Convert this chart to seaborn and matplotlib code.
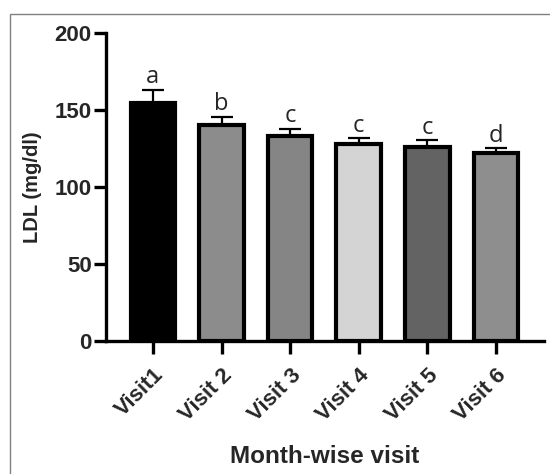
import matplotlib
matplotlib.use("Agg")
import matplotlib.pyplot as plt
import seaborn as sns
import pandas as pd
from matplotlib.patches import Rectangle

categories = ["Visit1", "Visit 2", "Visit 3", "Visit 4", "Visit 5", "Visit 6"]
means = [154.9, 140.3, 133.4, 128, 126.3, 122]
errors = [8.6, 5.4, 4.5, 3.7, 4.1, 3.2]
letters = ["a", "b", "c", "c", "c", "d"]
colors = ["#000000", "#8c8c8c", "#858585", "#d4d4d4", "#636363", "#8e8e8e"]

sns.set_style("white")
plt.rcParams['font.family'] = ['Liberation Sans', 'DejaVu Sans']

df = pd.DataFrame({"visit": categories, "ldl": means})

fig = plt.figure(figsize=(5.5, 4.74), dpi=100)
ax = fig.add_axes([0.192, 0.2806, 0.797, 0.649])

sns.barplot(data=df, x="visit", y="ldl", hue="visit", palette=colors,
            legend=False, edgecolor="black", linewidth=3, width=0.65,
            errorbar=None, ax=ax)

xs = list(range(len(categories)))
ax.errorbar(xs, means, yerr=[[0] * len(errors), errors], fmt="none",
            ecolor="black", elinewidth=1.6, capsize=8, capthick=1.6, zorder=1)

for x, m, e, l in zip(xs, means, errors, letters):
    ax.text(x, m + e + 0.5, l, ha="center", va="bottom", fontsize=17,
            family=["Open Sans", "DejaVu Sans"])

ax.set_ylim(0, 200)
ax.set_xlim(-0.69, 5.7)
ax.set_yticks([0, 50, 100, 150, 200])
ax.set_ylabel("LDL (mg/dl)", fontsize=14.5, fontweight="bold", labelpad=9)
ax.set_xlabel("Month-wise visit", fontsize=17.5, fontweight="bold", labelpad=14)

for s in ["top", "right"]:
    ax.spines[s].set_visible(False)
for s in ["left", "bottom"]:
    ax.spines[s].set_linewidth(2.4)
    ax.spines[s].set_color("black")

ax.tick_params(axis="both", which="both", direction="out", length=9, width=2.4,
               color="black", left=True, bottom=True)
ax.tick_params(axis="y", labelsize=16, pad=1)
ax.tick_params(axis="x", labelsize=16, pad=8)
for lab in ax.get_yticklabels():
    lab.set_fontweight("bold")
for lab in ax.get_xticklabels():
    lab.set_fontweight("bold")
    lab.set_rotation(45)
    lab.set_ha("right")
    lab.set_rotation_mode("anchor")

fig.patches.append(Rectangle((10 / 550, -0.1), 1.2, 1 - 14 / 474 + 0.1,
                             transform=fig.transFigure, fill=False,
                             edgecolor="#808080", linewidth=1))

fig.savefig("out.png", dpi=100)
